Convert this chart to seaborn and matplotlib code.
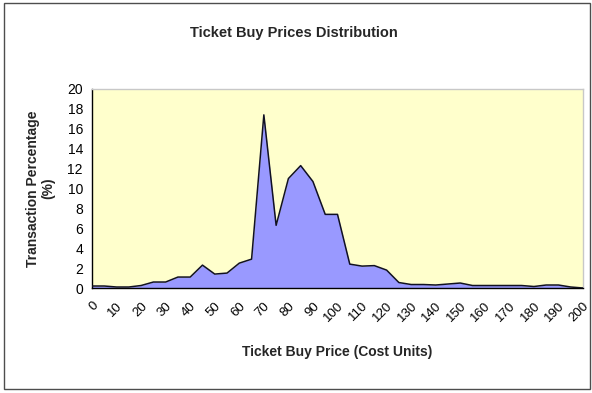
import matplotlib
matplotlib.use("Agg")
import matplotlib.pyplot as plt
from matplotlib.patches import Rectangle
import seaborn as sns
import pandas as pd
import numpy as np

# Ticket buy price buckets (cost units) and share of transactions (%)
prices = [0, 5, 10, 15, 20, 25, 30, 35, 40, 45, 50, 55, 60, 65, 70, 75, 80,
          85, 90, 95, 100, 105, 110, 115, 120, 125, 130, 135, 140, 145, 150,
          155, 160, 165, 170, 175, 180, 185, 190, 195, 200]
percentages = [0.2, 0.2, 0.1, 0.1, 0.25, 0.6, 0.6, 1.1, 1.1, 2.3, 1.4, 1.5,
               2.5, 2.9, 17.4, 6.3, 11.0, 12.3, 10.7, 7.4, 7.4, 2.4, 2.2,
               2.25, 1.8, 0.55, 0.35, 0.35, 0.3, 0.4, 0.5, 0.25, 0.25, 0.25,
               0.25, 0.25, 0.15, 0.3, 0.3, 0.1, 0.0]
x_ticks = list(range(0, 201, 10))
y_ticks = list(range(0, 21, 2))

df = pd.DataFrame({"price": prices, "pct": percentages})

sns.set_style("white")
plt.rcParams["font.family"] = ["Liberation Sans", "DejaVu Sans"]

W, H = 592, 393
fig = plt.figure(figsize=(W / 100, H / 100), dpi=100)
fig.patch.set_facecolor("white")

left, right, top, bottom = 92, 583, 89, 288
ax = fig.add_axes([left / W, 1 - bottom / H, (right - left) / W, (bottom - top) / H])
ax.set_facecolor("#FFFFCC")

ax.fill_between(df["price"], df["pct"], 0, color="#9999FF", linewidth=0, zorder=2)
sns.lineplot(data=df, x="price", y="pct", ax=ax, color="#111122",
             linewidth=1.1, zorder=3)

ax.set_xlim(0, 200)
ax.set_ylim(0, 20)
ax.set_xticks(x_ticks)
ax.set_yticks(y_ticks)
ax.set_xticklabels([str(t) for t in x_ticks], rotation=45, ha="right",
                   rotation_mode="anchor", fontsize=9.5)
ax.set_yticklabels([str(t) for t in y_ticks], fontsize=10)
ax.tick_params(axis="both", direction="out", length=4.5, width=0.9,
               color="black", pad=2, labelcolor="black")
ax.tick_params(axis="x", pad=4)

for side in ("left", "bottom"):
    ax.spines[side].set_color("black")
    ax.spines[side].set_linewidth(1.0)
for side in ("top", "right"):
    ax.spines[side].set_color("#C8C8C8")
    ax.spines[side].set_linewidth(1.0)

ax.set_xlabel("Ticket Buy Price (Cost Units)", fontsize=10, fontweight="bold",
              labelpad=15)
ax.set_ylabel("Transaction Percentage\n(%)", fontsize=10, fontweight="bold",
              labelpad=9, linespacing=1.1)

fig.text(294 / W, 1 - 33 / H, "Ticket Buy Prices Distribution", ha="center",
         va="center", fontsize=10.5, fontweight="bold")

# outer chart frame
fig.patches.append(Rectangle((4 / W, 4 / H), 586 / W, 386 / H,
                             transform=fig.transFigure, fill=False,
                             edgecolor="#4d4d4d", linewidth=1.0))

fig.savefig("out.png", dpi=100)
